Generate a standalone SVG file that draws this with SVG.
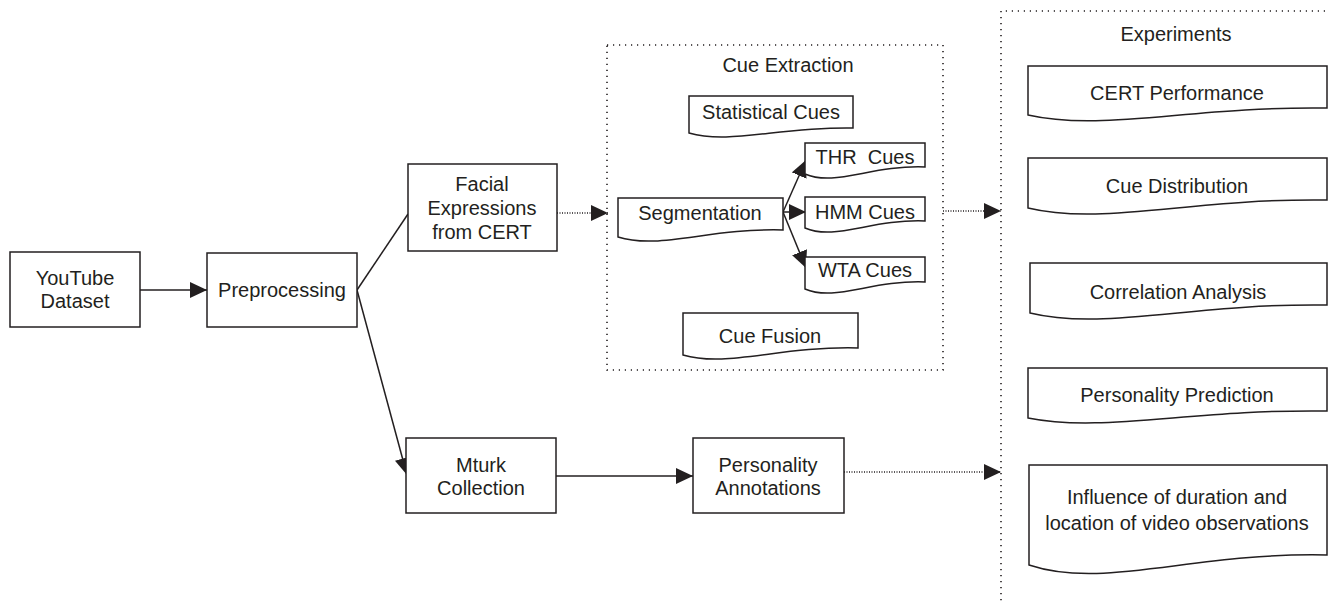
<svg xmlns="http://www.w3.org/2000/svg" width="1329" height="602" viewBox="0 0 1329 602">
  <style>
    .box { fill: #ffffff; stroke: #231f20; stroke-width: 1.5; }
    .grp { fill: none; stroke: #231f20; stroke-width: 1.6; stroke-dasharray: 1.2 4.8; }
    .lbl { font-family: "Liberation Sans", Arial, sans-serif; font-size: 20px; fill: #231f20; text-anchor: middle; }
    .edge { fill: none; stroke: #231f20; stroke-width: 1.5; }
    .dot { fill: none; stroke: #231f20; stroke-width: 1.5; stroke-dasharray: 1 1.5; }
  </style>
  <defs>
    <marker id="arr" markerUnits="userSpaceOnUse" markerWidth="18" markerHeight="16" refX="17" refY="8" orient="auto">
      <path d="M0,0 L17,8 L0,16 Z" fill="#231f20"/>
    </marker>
  </defs>
  <rect width="1329" height="602" fill="#ffffff"/>

  <!-- group containers -->
  <g id="cue-extraction">
    <rect class="grp" x="607" y="45" width="336" height="325"/>
    <text class="lbl" x="788" y="72">Cue Extraction</text>
  </g>
  <g id="experiments">
    <path class="grp" d="M1325,11 H1001 V602"/>
    <text class="lbl" x="1176" y="41">Experiments</text>
  </g>

  <!-- connectors -->
  <g id="connectors">
    <line class="edge" x1="140" y1="290" x2="207" y2="290" marker-end="url(#arr)"/>
    <line class="edge" x1="357" y1="290" x2="408" y2="214"/>
    <line class="edge" x1="357" y1="290" x2="407" y2="475" marker-end="url(#arr)"/>
    <line class="dot" x1="557" y1="213" x2="608" y2="213" marker-end="url(#arr)"/>
    <line class="edge" x1="783" y1="212" x2="806" y2="160" marker-end="url(#arr)"/>
    <line class="edge" x1="783" y1="212" x2="806" y2="212" marker-end="url(#arr)"/>
    <line class="edge" x1="783" y1="212" x2="806" y2="268" marker-end="url(#arr)"/>
    <line class="dot" x1="943" y1="211" x2="1001" y2="211" marker-end="url(#arr)"/>
    <line class="edge" x1="556" y1="476" x2="693" y2="476" marker-end="url(#arr)"/>
    <line class="dot" x1="844" y1="472" x2="1001" y2="472" marker-end="url(#arr)"/>
  </g>

  <!-- main flow nodes -->
  <g id="youtube-dataset">
    <rect class="box" x="10" y="252" width="130" height="75"/>
    <text class="lbl" x="75" y="285">YouTube</text>
    <text class="lbl" x="75" y="308">Dataset</text>
  </g>
  <g id="preprocessing">
    <rect class="box" x="207" y="253" width="150" height="74"/>
    <text class="lbl" x="282" y="297">Preprocessing</text>
  </g>
  <g id="facial-expressions">
    <rect class="box" x="408" y="164" width="149" height="87"/>
    <text class="lbl" x="482" y="191">Facial</text>
    <text class="lbl" x="482" y="215">Expressions</text>
    <text class="lbl" x="482" y="239">from CERT</text>
  </g>
  <g id="mturk-collection">
    <rect class="box" x="406" y="438" width="150" height="75"/>
    <text class="lbl" x="481" y="472">Mturk</text>
    <text class="lbl" x="481" y="495">Collection</text>
  </g>
  <g id="personality-annotations">
    <rect class="box" x="693" y="438" width="151" height="75"/>
    <text class="lbl" x="768" y="472">Personality</text>
    <text class="lbl" x="768" y="495">Annotations</text>
  </g>

  <!-- cue extraction nodes -->
  <g id="statistical-cues">
    <path class="box" d="M689,96 H853 V128 C779,126.5 730,145 689,133 Z"/>
    <text class="lbl" x="771" y="119">Statistical Cues</text>
  </g>
  <g id="segmentation">
    <path class="box" d="M618,198 H783 V230 C709,228 659,250 618,237 Z"/>
    <text class="lbl" x="700" y="220">Segmentation</text>
  </g>
  <g id="thr-cues">
    <path class="box" d="M805,143 H925 V167 C871,165 835,187 805,174 Z"/>
    <text class="lbl" x="865" y="164" style="white-space:pre">THR  Cues</text>
  </g>
  <g id="hmm-cues">
    <path class="box" d="M805,197 H925 V221 C871,219 835,241 805,228 Z"/>
    <text class="lbl" x="865" y="219">HMM Cues</text>
  </g>
  <g id="wta-cues">
    <path class="box" d="M805,257 H925 V282 C871,280 835,302 805,289 Z"/>
    <text class="lbl" x="865" y="277">WTA Cues</text>
  </g>
  <g id="cue-fusion">
    <path class="box" d="M683,313 H858 V348 C779,346 727,368 683,355 Z"/>
    <text class="lbl" x="770" y="343">Cue Fusion</text>
  </g>

  <!-- experiment nodes -->
  <g id="cert-performance">
    <path class="box" d="M1028,66 H1327 V108 C1192,106 1103,132 1028,115 Z"/>
    <text class="lbl" x="1177" y="100">CERT Performance</text>
  </g>
  <g id="cue-distribution">
    <path class="box" d="M1028,158 H1327 V200 C1192,198 1103,226 1028,208 Z"/>
    <text class="lbl" x="1177" y="193">Cue Distribution</text>
  </g>
  <g id="correlation-analysis">
    <path class="box" d="M1030,263 H1327 V305 C1193,303 1104,331 1030,313 Z"/>
    <text class="lbl" x="1178" y="299">Correlation Analysis</text>
  </g>
  <g id="personality-prediction">
    <path class="box" d="M1028,368 H1327 V411 C1192,409 1103,433 1028,418 Z"/>
    <text class="lbl" x="1177" y="402">Personality Prediction</text>
  </g>
  <g id="influence">
    <path class="box" d="M1029,465 H1327 V555 C1193,552 1104,590 1029,565 Z"/>
    <text class="lbl" x="1177" y="504">Influence of duration and</text>
    <text class="lbl" x="1177" y="530">location of video observations</text>
  </g>
</svg>
